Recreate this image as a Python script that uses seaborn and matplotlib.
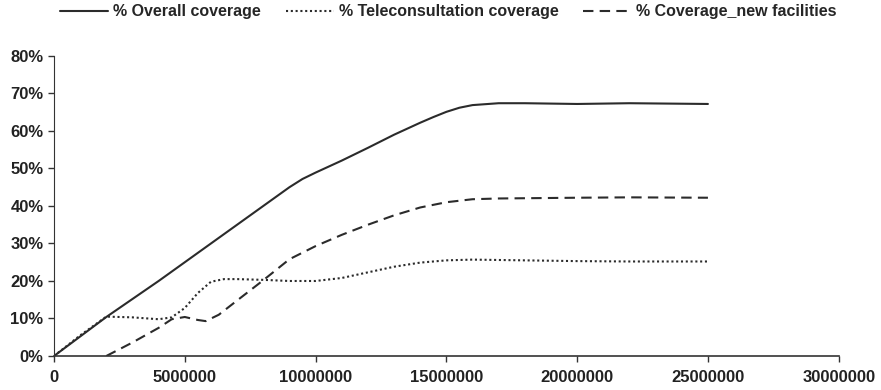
import pandas as pd
import numpy as np
import matplotlib
matplotlib.use("Agg")
import matplotlib.pyplot as plt
import matplotlib.ticker as mticker
import seaborn as sns

# valores (população x cobertura %)
x_overall = [0, 1e6, 2e6, 3e6, 4e6, 5e6, 6e6, 7e6, 8e6, 9e6, 9.5e6, 10e6, 11e6, 12e6,
             13e6, 14e6, 14.5e6, 15e6, 15.5e6, 16e6, 17e6, 18e6, 20e6, 22e6, 25e6]
y_overall = [0, 5.2, 10.4, 15.2, 20.0, 25.0, 30.0, 35.0, 40.0, 45.0, 47.2, 48.9, 52.1,
             55.5, 59.0, 62.2, 63.7, 65.1, 66.2, 66.9, 67.4, 67.4, 67.2, 67.4, 67.2]

x_tele = [0, 1e6, 2e6, 3e6, 4e6, 4.5e6, 5e6, 5.5e6, 6e6, 6.5e6, 7e6, 8e6, 9e6,
          10e6, 11e6, 12e6, 13e6, 14e6, 15e6, 16e6, 18e6, 20e6, 22e6, 25e6]
y_tele = [0, 5.5, 10.5, 10.3, 9.8, 10.3, 12.8, 16.8, 19.8, 20.5, 20.5, 20.3, 20.0,
          20.0, 20.8, 22.3, 23.8, 24.9, 25.5, 25.7, 25.5, 25.3, 25.2, 25.2]

x_new = [2e6, 3e6, 4e6, 4.5e6, 5e6, 5.5e6, 5.8e6, 6.3e6, 7e6, 8e6, 9e6, 10e6,
         11e6, 12e6, 13e6, 14e6, 15e6, 16e6, 17e6, 20e6, 22e6, 25e6]
y_new = [0, 3.6, 7.5, 9.8, 10.4, 9.6, 9.3, 11.0, 14.8, 20.2, 25.8, 29.3,
         32.3, 35.0, 37.5, 39.6, 41.0, 41.8, 42.0, 42.2, 42.3, 42.2]

nomes = ["% Overall coverage", "% Teleconsultation coverage", "% Coverage_new facilities"]

df = pd.concat([
    pd.DataFrame({"x": x_overall, "y": y_overall, "serie": nomes[0]}),
    pd.DataFrame({"x": x_tele, "y": y_tele, "serie": nomes[1]}),
    pd.DataFrame({"x": x_new, "y": y_new, "serie": nomes[2]}),
])

sns.set_style("ticks")
plt.rcParams["font.family"] = ["Liberation Sans Narrow", "Liberation Sans", "DejaVu Sans"]
plt.rcParams["font.weight"] = "bold"

fig = plt.figure(figsize=(8.81, 3.9), dpi=100)
ax = fig.add_axes([0.0613, 0.0872, 0.8907, 0.7693])

sns.lineplot(data=df, x="x", y="y", hue="serie", style="serie",
             palette=["#2b2b2b"] * 3,
             dashes={nomes[0]: "", nomes[1]: (1, 1.3), nomes[2]: (5, 3)},
             linewidth=1.5, ax=ax, sort=False)

ax.set_xlim(0, 30000000)
ax.set_ylim(0, 80)
ax.set_xticks(np.arange(0, 30000001, 5000000))
ax.set_yticks(np.arange(0, 81, 10))
ax.xaxis.set_major_formatter(mticker.FuncFormatter(lambda v, p: f"{int(v)}"))
ax.yaxis.set_major_formatter(mticker.FuncFormatter(lambda v, p: f"{int(v)}%"))
ax.tick_params(axis="both", labelsize=12, length=4, color="#333333", width=1)
ax.tick_params(axis="x", pad=6)
for lab in ax.get_xticklabels() + ax.get_yticklabels():
    lab.set_fontweight("bold")
    lab.set_color("#222222")
ax.set_xlabel("")
ax.set_ylabel("")
sns.despine(ax=ax)
ax.spines["left"].set_color("#333333")
ax.spines["bottom"].set_color("#333333")
ax.spines["bottom"].set_linewidth(1.2)

leg = ax.legend(loc="center", bbox_to_anchor=(0.5025, 1.147), ncol=3, frameon=False,
                handlelength=3.0, handletextpad=0.31, columnspacing=1.56,
                prop={"size": 11.5, "weight": "bold"})

fig.savefig("out.png", dpi=100)
